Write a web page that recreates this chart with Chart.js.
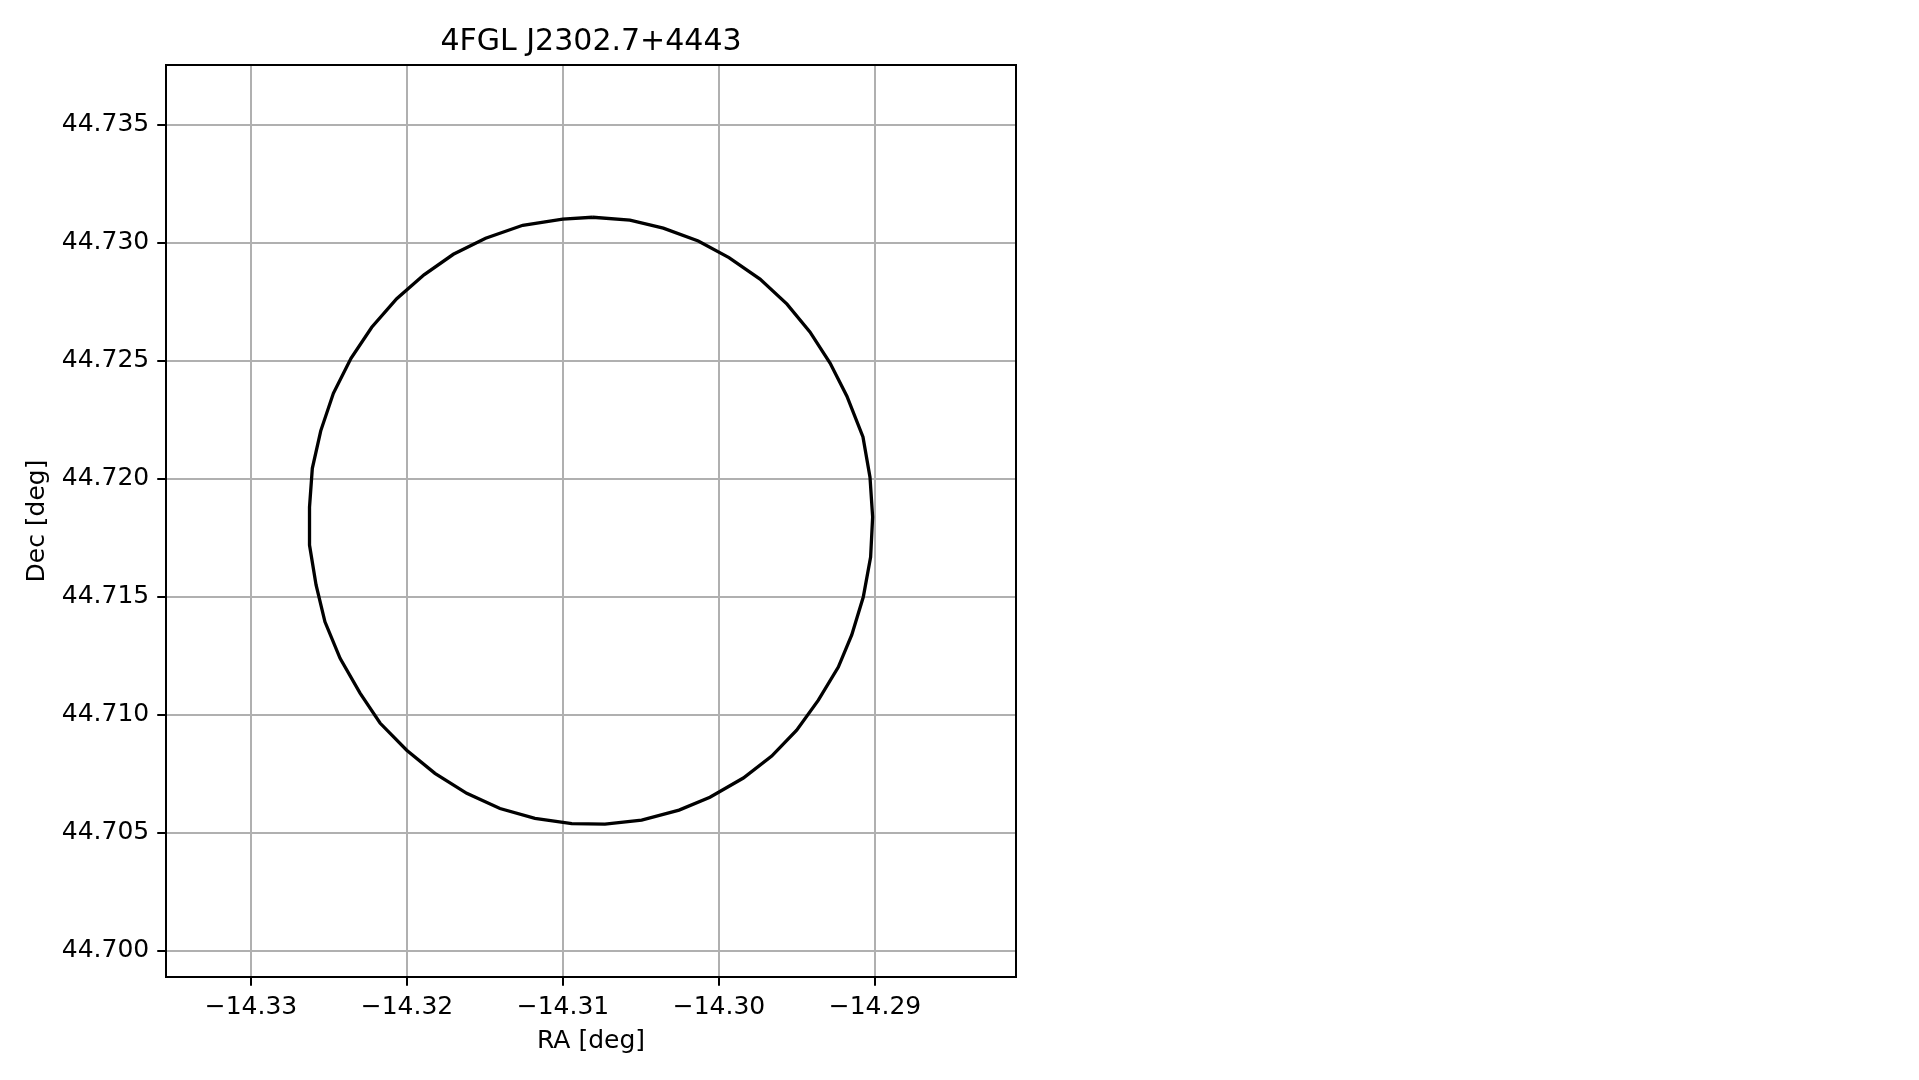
<!DOCTYPE html>
<html>
<head>
<meta charset="utf-8">
<title>4FGL J2302.7+4443</title>
<script src="https://cdn.jsdelivr.net/npm/chart.js@4.4.1/dist/chart.umd.min.js"></script>
<style>
  html, body { margin: 0; padding: 0; background: #fff; }
  #wrap { width: 1919px; height: 1080px; }
</style>
</head>
<body>
<div id="wrap"><canvas id="chart" width="1919" height="1080"></canvas></div>
<script>
// Contour vertices (RA / Dec in degrees)
const raValues = [
  -14.30810, -14.30571, -14.30357, -14.30133, -14.29936, -14.29737, -14.29564,
  -14.29417, -14.29288, -14.29180, -14.29077, -14.29032, -14.29015, -14.29028,
  -14.29075, -14.29149, -14.29235, -14.29363, -14.29502, -14.29662, -14.29844,
  -14.30058, -14.30256, -14.30496, -14.30731, -14.30944, -14.31180, -14.31404,
  -14.31617, -14.31821, -14.32002, -14.32173, -14.32301, -14.32429, -14.32526,
  -14.32583, -14.32625, -14.32625, -14.32607, -14.32553, -14.32472, -14.32359,
  -14.32226, -14.32066, -14.31891, -14.31703, -14.31496, -14.31258, -14.31002,
];
const decValues = [
  44.73108, 44.73096, 44.73062, 44.73007, 44.72937, 44.72846, 44.72740,
  44.72622, 44.72490, 44.72350, 44.72177, 44.72007, 44.71838, 44.71668,
  44.71499, 44.71338, 44.71202, 44.71062, 44.70935, 44.70825, 44.70732,
  44.70651, 44.70596, 44.70554, 44.70537, 44.70539, 44.70561, 44.70603,
  44.70667, 44.70752, 44.70850, 44.70965, 44.71092, 44.71239, 44.71394,
  44.71550, 44.71719, 44.71880, 44.72044, 44.72203, 44.72362, 44.72510,
  44.72642, 44.72763, 44.72864, 44.72951, 44.73019, 44.73074, 44.73100,
];
const raTicks = [-14.33, -14.32, -14.31, -14.30, -14.29];
const decTicks = [44.700, 44.705, 44.710, 44.715, 44.720, 44.725, 44.730, 44.735];

const FONT = 'DejaVu Sans';
const PT = 180 / 72; // 1pt in px

// closed outline
const points = raValues.map((ra, i) => ({ x: ra, y: decValues[i] }));
points.push({ ...points[0] });

const fmtMinus = (v, d) => v.toFixed(d).replace('-', '\u2212');

// draws the top/right spines too
const frame = {
  id: 'frame',
  afterDatasetsDraw(chart) {
    const { ctx, chartArea: a } = chart;
    ctx.save();
    ctx.strokeStyle = '#000';
    ctx.lineWidth = 0.8 * PT;
    ctx.strokeRect(a.left, a.top, a.right - a.left, a.bottom - a.top);
    ctx.restore();
  },
};

const gridOpts = {
  color: '#b0b0b0',
  lineWidth: 0.8 * PT,
  tickLength: 3.5 * PT,
  tickColor: '#000',
  tickWidth: 0.8 * PT,
};

new Chart(document.getElementById('chart'), {
  type: 'scatter',
  data: {
    datasets: [{
      data: points,
      showLine: true,
      borderColor: '#000',
      borderWidth: 3.3,
      pointRadius: 0,
      tension: 0,
      fill: false,
    }],
  },
  options: {
    responsive: false,
    animation: false,
    layout: { padding: { left: 0, right: 903, top: 0, bottom: 0 } },
    plugins: {
      legend: { display: false },
      tooltip: { enabled: false },
      title: {
        display: true,
        text: '4FGL J2302.7+4443',
        fullSize: false,
        color: '#000',
        font: { family: FONT, size: 30, weight: 'normal', lineHeight: 1.2 },
        padding: { top: 24, bottom: 5 },
      },
    },
    scales: {
      x: {
        type: 'linear',
        min: -14.33545,
        max: -14.28096,
        grid: gridOpts,
        border: { display: false },
        afterFit(scale) { scale.height = 103; },
        afterBuildTicks(scale) { scale.ticks = raTicks.map((v) => ({ value: v })); },
        ticks: {
          color: '#000',
          padding: 7,
          maxRotation: 0,
          font: { family: FONT, size: 25 },
          callback: (v) => fmtMinus(v, 2),
        },
        title: {
          display: true,
          text: 'RA [deg]',
          color: '#000',
          font: { family: FONT, size: 25, lineHeight: 1.2 },
          padding: { top: 0, bottom: 24 },
        },
      },
      y: {
        type: 'linear',
        min: 44.69889,
        max: 44.73753,
        grid: gridOpts,
        border: { display: false },
        afterFit(scale) { scale.width = 166; },
        afterBuildTicks(scale) { scale.ticks = decTicks.map((v) => ({ value: v })); },
        ticks: {
          color: '#000',
          padding: 8,
          font: { family: FONT, size: 25 },
          callback: (v) => v.toFixed(3),
        },
        title: {
          display: true,
          text: 'Dec [deg]',
          color: '#000',
          font: { family: FONT, size: 25, lineHeight: 1.2 },
          padding: { top: 22, bottom: 0 },
        },
      },
    },
  },
  plugins: [frame],
});
</script>
</body>
</html>
